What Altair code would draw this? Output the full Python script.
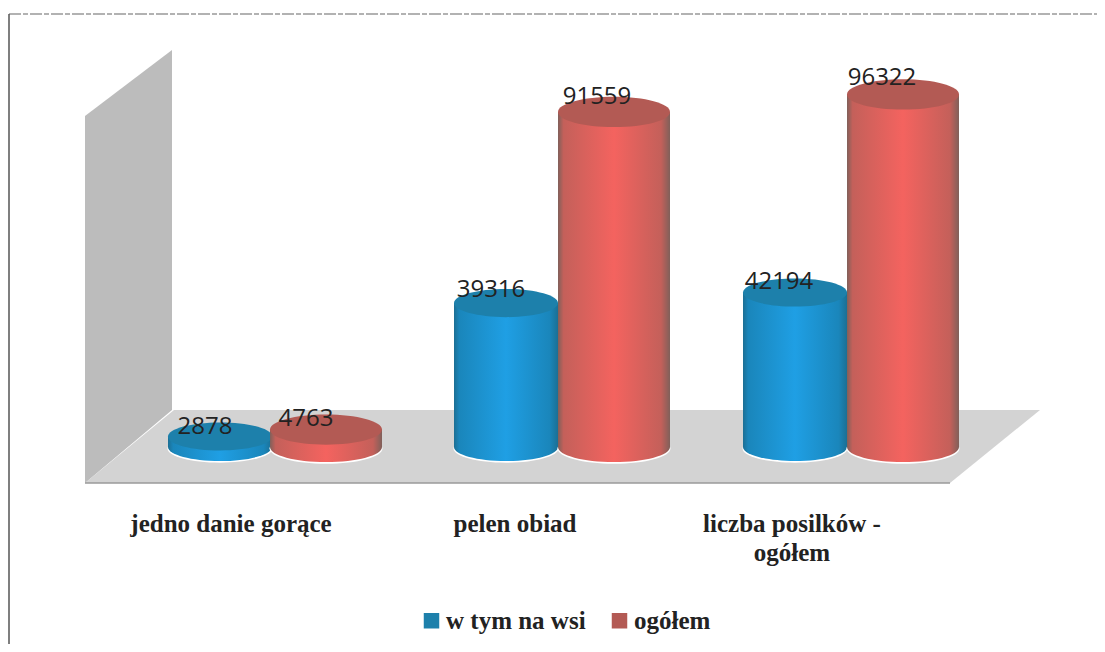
import altair as alt
import pandas as pd

categories = ["jedno danie gorące", "pelen obiad", "liczba posilków -"]
series = ["w tym na wsi", "ogółem"]
wies = [2878, 39316, 42194]
ogolem = [4763, 91559, 96322]

# layout of the pseudo-3D scene, in page pixels
K = 0.00366
BASE = 447
def val(p):
    return (BASE - p) / K

X_DOM = [8, 1097]
Y_DOM = [val(644), val(8)]
blue_x = [(168, 272), (454, 558), (743, 847)]
red_x = [(270, 382), (558, 670), (847, 959)]
blue_lab = [205, 491, 779]
red_lab = [306, 597, 882]
blue_lab_y = [427, 290, 282]
red_lab_y = [419, 97, 78]
ELL = "M-1,0A1,0.27,0,1,1,1,0A1,0.27,0,1,1,-1,0Z"

sx = alt.Scale(domain=X_DOM, nice=False, zero=False)
sy = alt.Scale(domain=Y_DOM, nice=False, zero=False)
X = lambda f="x": alt.X(f"{f}:Q", scale=sx, axis=None)
Y = lambda f="y": alt.Y(f"{f}:Q", scale=sy, axis=None)

def grad(edge, mid, dark):
    return alt.Gradient(gradient="linear", x1=0, x2=1, y1=0, y2=0, stops=[
        alt.GradientStop(offset=0, color=dark),
        alt.GradientStop(offset=0.05, color=edge),
        alt.GradientStop(offset=0.5, color=mid),
        alt.GradientStop(offset=0.92, color=edge),
        alt.GradientStop(offset=1, color=dark),
    ])

frame_top = alt.Chart(pd.DataFrame({"x": [9], "x2": [1097], "y": [val(14)]})).mark_rule(
    color="#666", strokeWidth=1.2, strokeDash=[12, 2, 5, 2]).encode(x=X(), x2="x2:Q", y=Y())
frame_left = alt.Chart(pd.DataFrame({"x": [9], "y": [val(14)], "y2": [val(644)]})).mark_rule(
    color="#555", strokeWidth=1.5).encode(x=X(), y=Y(), y2="y2:Q")

floor = alt.Chart(pd.DataFrame({"y": [val(410), val(483)], "x": [174, 85], "x2": [1040, 950]})).mark_area(
    orient="horizontal", color="#d3d3d3").encode(y=Y(), x=X(), x2="x2:Q")
wall = alt.Chart(pd.DataFrame({"x": [85, 172], "y": [val(116), val(50)], "y2": [val(483), val(410)]})).mark_area(
    orient="vertical", color="#bcbcbc").encode(x=X(), y=Y(), y2="y2:Q")
floor_edge = alt.Chart(pd.DataFrame({"x": [85], "x2": [950], "y": [val(483)]})).mark_rule(
    color="#9a9a9a", strokeWidth=1.5).encode(x=X(), x2="x2:Q", y=Y())

def cylinder(name, values, xs, fill):
    df = pd.DataFrame({
        "series": name, "v": values,
        "x": [a for a, b in xs], "x2": [b for a, b in xs],
        "xc": [(a + b) / 2 for a, b in xs],
        "base": 0, "halo": val(BASE + 1.5),
    })
    w = xs[1][1] - xs[1][0]
    base = alt.Chart(df)
    halo = base.mark_point(shape=ELL, filled=True, opacity=1, fill="#ffffff", size=(w + 1) ** 2).encode(
        x=X("xc"), y=Y("halo"))
    bottom = base.mark_point(shape=ELL, filled=True, opacity=1, fill=fill, size=w ** 2).encode(
        x=X("xc"), y=Y("base"))
    body = base.mark_bar(fill=fill).encode(x=X(), x2="x2:Q", y=alt.Y("v:Q", scale=sy, axis=None), y2="base:Q")
    return halo + bottom + body

def tops(name, values, xs, colors):
    df = pd.DataFrame({"series": name, "v": values, "xc": [(a + b) / 2 for a, b in xs]})
    w = xs[1][1] - xs[1][0]
    return alt.Chart(df).mark_point(shape=ELL, filled=True, opacity=1, size=w ** 2).encode(
        x=X("xc"), y=alt.Y("v:Q", scale=sy, axis=None),
        color=alt.Color("series:N", scale=alt.Scale(domain=series, range=colors),
                        legend=alt.Legend(
                            title=None, orient="none", legendX=411, legendY=600, direction="horizontal",
                            symbolType="square", symbolSize=240, symbolStrokeWidth=1, symbolOpacity=1,
                            labelFont="Liberation Serif", labelFontSize=25, labelColor="#222",
                            labelFontWeight="bold", columnPadding=21, labelOffset=2)),
    )

def numbers(values, lab_x, lab_y):
    df = pd.DataFrame({"v": values, "x": lab_x, "y": [val(p) for p in lab_y]})
    return alt.Chart(df).mark_text(font="Open Sans", fontSize=24, color="#222").encode(
        x=X(), y=Y(), text=alt.Text("v:Q", format="d"))

cat_df = pd.DataFrame({
    "x": [231, 515, 792, 792],
    "y": [val(524), val(524), val(524), val(553)],
    "t": [categories[0], categories[1], categories[2], "ogółem"],
})
cats = alt.Chart(cat_df).mark_text(font="Liberation Serif", fontSize=25, fontWeight="bold", color="#222").encode(
    x=X(), y=Y(), text="t:N")

blue_fill = grad("#1a86bb", "#1f9fe4", "#1c6f94")
red_fill = grad("#c4605a", "#f4635f", "#80605a")
BLUE_TOP = "#1d80ab"
RED_TOP = "#b35a54"
top_colors = [BLUE_TOP, RED_TOP]

chart = alt.layer(
    frame_top, frame_left, floor, wall, floor_edge,
    cylinder(series[0], wies, blue_x, blue_fill),
    tops(series[0], wies, blue_x, top_colors),
    cylinder(series[1], ogolem, red_x, red_fill),
    tops(series[1], ogolem, red_x, top_colors),
    numbers(wies, blue_lab, blue_lab_y),
    numbers(ogolem, red_lab, red_lab_y),
    cats,
).properties(
    width=1089, height=636, padding=0, background="white",
    autosize=alt.AutoSizeParams(type="none"),
).configure_view(stroke=None)

chart.save("out.html", embed_options={"renderer": "svg", "actions": False})
